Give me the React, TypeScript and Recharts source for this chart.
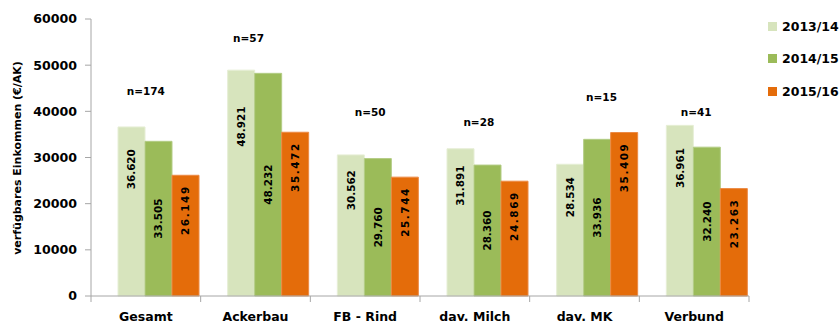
import React from 'react';
import {
  BarChart,
  Bar,
  XAxis,
  YAxis,
  Legend,
  LabelList,
  Label,
  ReferenceDot,
} from 'recharts';

// Betriebsgruppen und verfügbares Einkommen je AK (€/AK)
const categories = ['Gesamt', 'Ackerbau', 'FB - Rind', 'dav. Milch', 'dav. MK', 'Verbund'];
const y2013 = [36620, 48921, 30562, 31891, 28534, 36961];
const y2014 = [33505, 48232, 29760, 28360, 33936, 32240];
const y2015 = [26149, 35472, 25744, 24869, 35409, 23263];
const sampleSizes = ['n=174', 'n=57', 'n=50', 'n=28', 'n=15', 'n=41'];
// height (in €/AK) at which each n= note sits above its group, and its sideways nudge
const sampleNoteLevel = [44400, 55900, 39850, 37700, 43100, 39850];
const sampleNoteDx = [0, -7, 5, 4, 17, 2];
const yTicks = [0, 10000, 20000, 30000, 40000, 50000, 60000];

const seriesNames = ['2013/14', '2014/15', '2015/16'];
const colors = ['#d7e4bd', '#9bbb59', '#e46c0a'];

const data = categories.map((name, i) => ({
  name,
  a: y2013[i],
  b: y2014[i],
  c: y2015[i],
}));

const FONT = '"DejaVu Sans", Verdana, sans-serif';
const W = 840;
const H = 324;
const MARGIN = { top: 19, right: 91, bottom: 0, left: 0 };
const Y_AXIS_W = 91;
const X_AXIS_H = 28;
const plotWidth = W - MARGIN.left - MARGIN.right - Y_AXIS_W;
const band = plotWidth / categories.length;

const fmt = (v: number) => {
  const s = String(Math.round(v));
  return s.replace(/\B(?=(\d{3})+(?!\d))/g, '.');
};

type Mode = 'upper' | 'middle' | 'top';

const makeValueLabel = (mode: Mode) => (props: any) => {
  const { x, y, width, height, value } = props;
  if (value == null) return null;
  const cx = Number(x) + Number(width) / 2;
  let cy: number;
  let anchor: 'middle' | 'end' = 'middle';
  if (mode === 'upper') cy = Number(y) + Number(height) * 0.25;
  else if (mode === 'middle') cy = Number(y) + Number(height) / 2;
  else {
    cy = Number(y) + 10;
    anchor = 'end';
  }
  return (
    <text
      x={cx}
      y={cy}
      transform={`rotate(-90 ${cx} ${cy})`}
      textAnchor={anchor}
      dominantBaseline="central"
      fontFamily={FONT}
      fontWeight="bold"
      fontSize={10.4}
      letterSpacing={mode === 'top' ? 1.6 : 0}
      fill="#000"
    >
      {fmt(value)}
    </text>
  );
};

const CategoryTick = (props: any) => {
  const { x, y, payload, index } = props;
  const left = x - band / 2;
  const right = x + band / 2;
  return (
    <g>
      <line x1={left} x2={left} y1={y} y2={y + 6} stroke="#a6a6a6" />
      {index === categories.length - 1 && (
        <line x1={right} x2={right} y1={y} y2={y + 6} stroke="#a6a6a6" />
      )}
      <text
        x={x}
        y={y + 25}
        textAnchor="middle"
        fontFamily={FONT}
        fontWeight="bold"
        fontSize={12.5}
        fill="#000"
      >
        {payload.value}
      </text>
    </g>
  );
};

const YTitle = () => (
  <text
    x={17}
    y={158}
    transform="rotate(-90 17 158)"
    textAnchor="middle"
    dominantBaseline="central"
    fontFamily={FONT}
    fontWeight="bold"
    fontSize={11}
    fill="#000"
  >
    verfügbares Einkommen (€/AK)
  </text>
);

const LegendContent = () => (
  <div style={{ fontFamily: FONT, fontWeight: 'bold', fontSize: 12.5, color: '#000' }}>
    {seriesNames.map((n, i) => (
      <div
        key={n}
        style={{ display: 'flex', alignItems: 'center', height: 32.5, whiteSpace: 'nowrap' }}
      >
        <span
          style={{
            display: 'inline-block',
            width: 9,
            height: 9,
            background: colors[i],
            marginLeft: 2,
            marginRight: 5,
          }}
        />
        <span>{n}</span>
      </div>
    ))}
  </div>
);

const makeNoteLabel = (i: number) => (props: any) => {
  const vb = props.viewBox || {};
  const cx = Number(vb.x) + Number(vb.width || 0) / 2 + sampleNoteDx[i];
  const cy = Number(vb.y) + Number(vb.height || 0) / 2;
  return (
    <text
      x={cx}
      y={cy}
      textAnchor="middle"
      dominantBaseline="central"
      fontFamily={FONT}
      fontWeight="bold"
      fontSize={10.5}
      fill="#000"
    >
      {sampleSizes[i]}
    </text>
  );
};

export default function App() {
  return (
    <div style={{ position: 'absolute', left: 0, top: 0, width: W, height: H, background: '#fff' }}>
      <BarChart
        width={W}
        height={H}
        data={data}
        margin={MARGIN}
        barCategoryGap={0}
        barGap={0}
      >
        <XAxis
          dataKey="name"
          height={X_AXIS_H}
          axisLine={{ stroke: '#a6a6a6' }}
          tickLine={false}
          tickSize={0}
          tickMargin={0}
          tick={<CategoryTick />}
          interval={0}
        />
        <YAxis
          width={Y_AXIS_W}
          domain={[0, 60000]}
          ticks={yTicks}
          interval={0}
          axisLine={{ stroke: '#a6a6a6' }}
          tickLine={{ stroke: '#a6a6a6' }}
          tickSize={6}
          tickMargin={8}
          tick={{ fontFamily: FONT, fontWeight: 'bold', fontSize: 12.6, fill: '#000' }}
        >
          <Label content={<YTitle />} />
        </YAxis>
        <Legend
          layout="vertical"
          align="center"
          verticalAlign="middle"
          content={<LegendContent />}
          wrapperStyle={{ position: 'absolute', left: 766, top: 10, width: 80 }}
        />
        {/* empty leading slot: each group sits in the right three quarters of its band */}
        <Bar dataKey="gap" legendType="none" isAnimationActive={false} />
        <Bar dataKey="a" name={seriesNames[0]} fill={colors[0]} stroke="#e6eed5" strokeWidth={1} isAnimationActive={false}>
          <LabelList dataKey="a" content={makeValueLabel('upper')} />
        </Bar>
        <Bar dataKey="b" name={seriesNames[1]} fill={colors[1]} stroke="#b3cc85" strokeWidth={1} isAnimationActive={false}>
          <LabelList dataKey="b" content={makeValueLabel('middle')} />
        </Bar>
        <Bar dataKey="c" name={seriesNames[2]} fill={colors[2]} stroke="#ec8a45" strokeWidth={1} isAnimationActive={false}>
          <LabelList dataKey="c" content={makeValueLabel('top')} />
        </Bar>
        {categories.map((c, i) => (
          <ReferenceDot
            key={c}
            x={c}
            y={sampleNoteLevel[i]}
            r={0}
            fill="none"
            stroke="none"
            label={makeNoteLabel(i)}
          />
        ))}
      </BarChart>
    </div>
  );
}
